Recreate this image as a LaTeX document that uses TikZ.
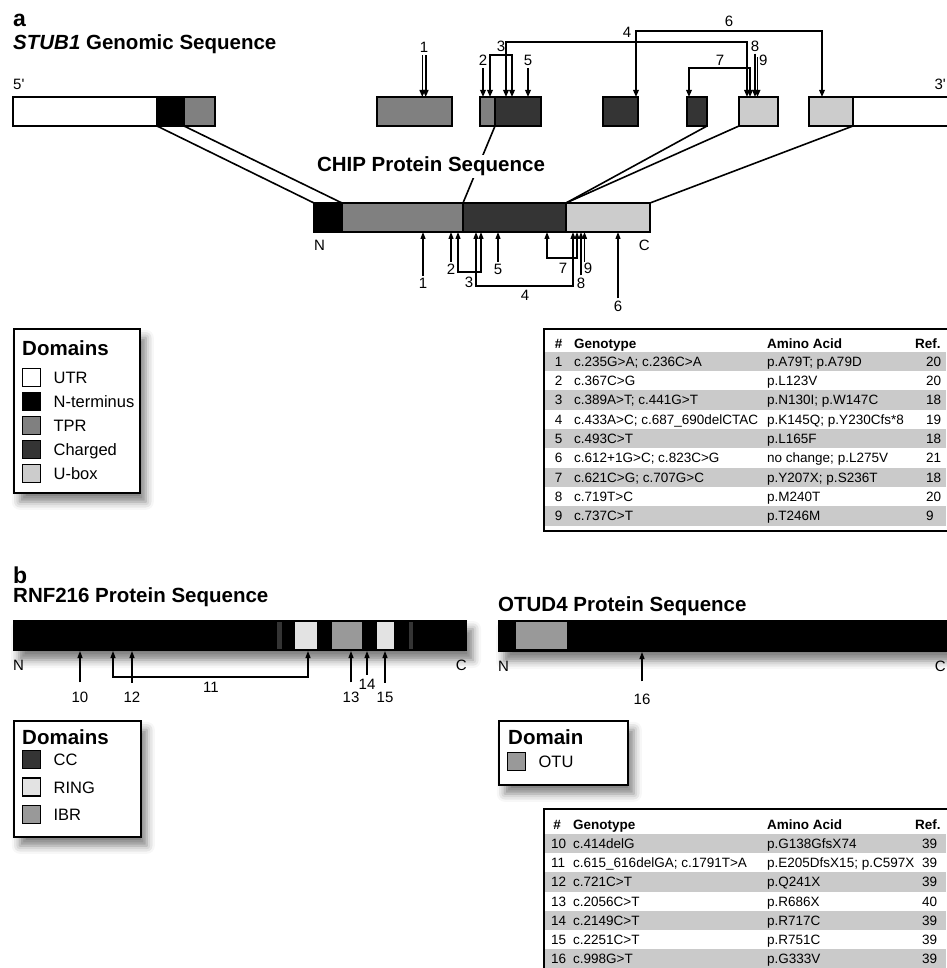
\documentclass[tikz,border=0pt]{standalone}
\usepackage{fontspec}
\setmainfont{Liberation Sans}
\usetikzlibrary{arrows.meta,positioning,backgrounds,calc,shadows.blur}

\definecolor{tprgray}{HTML}{808080}
\definecolor{chggray}{HTML}{343434}
\definecolor{ubxgray}{HTML}{CCCCCC}
\definecolor{ringgray}{HTML}{E3E3E3}
\definecolor{ibrgray}{HTML}{999999}
\definecolor{rowgray}{HTML}{CACACA}

\tikzset{
  seg/.style={draw, line width=1.6pt, inner sep=0pt, outer sep=0pt,
    anchor=north west, minimum height=29pt},
  dropsh/.style={blur shadow={shadow xshift=6pt, shadow yshift=-9pt,
    shadow blur radius=8pt, shadow opacity=50}},
  bar/.style={fill=black, inner sep=0pt, outer sep=0pt, anchor=north west,
    minimum height=31pt, dropsh},
  dom/.style={inner sep=0pt, outer sep=0pt, anchor=north west,
    minimum height=27pt},
  legbox/.style={draw, fill=white, line width=1.6pt, inner sep=0pt,
    anchor=north west, dropsh},
  swatch/.style={draw, line width=1.4pt, inner sep=0pt, minimum size=18pt,
    anchor=north west},
  legtitle/.style={font=\fontsize{20.5}{24}\selectfont\bfseries,
    inner sep=0pt, anchor=west},
  legtxt/.style={font=\fontsize{16.5}{19}\selectfont, inner sep=0pt,
    text height=11.8pt, text depth=0pt},
  ttl/.style={font=\fontsize{20.5}{24}\selectfont\bfseries, inner sep=0pt,
    anchor=base west},
  panel/.style={font=\fontsize{23}{26}\selectfont\bfseries, inner sep=0pt,
    anchor=base west},
  num/.style={font=\fontsize{15}{17}\selectfont, inner sep=0pt},
  cell/.style={font=\fontsize{13.5}{16}\selectfont, inner sep=0pt,
    anchor=west, text height=9.7pt, text depth=0pt},
  hcell/.style={cell, font=\fontsize{13.5}{16}\selectfont\bfseries},
  tabbox/.style={draw, line width=2.4pt, inner sep=0pt, anchor=north west},
  intron/.style={line width=1.6pt, dash pattern=on 4.5pt off 3.5pt},
  link/.style={line width=1.6pt},
  garr/.style={-{Triangle[length=7pt,width=5.5pt]}, line width=1.6pt},
  gbr/.style={{Triangle[length=7pt,width=5.5pt]}-{Triangle[length=7pt,width=5.5pt]},
    line width=1.6pt},
  parr/.style={-{Triangle[length=7pt,width=5pt]}, line width=1.2pt},
  pbr/.style={{Triangle[length=7pt,width=5pt]}-{Triangle[length=7pt,width=5pt]},
    line width=1.2pt}
}

\begin{document}
\begin{tikzpicture}[x=1pt, y=-1pt]
\useasboundingbox (0,0) rectangle (946,968);

% Panel a -- genomic sequence
\node[panel] (pa) at (13,27) {a};
\node[ttl] (gtitle) at (13,50) {\textit{STUB1} Genomic Sequence};
\node[num, anchor=base west] (five) at (13,90) {5\textquotesingle};
\node[num, anchor=base east] (three) at (946,90) {3\textquotesingle};

\node[seg, fill=white, minimum width=144pt] (utr5) at (13,97) {};
\node[seg, fill=black, minimum width=27pt, right=0pt of utr5] (gnt) {};
\node[seg, fill=tprgray, minimum width=31pt, right=0pt of gnt] (gtpr) {};
\node[seg, fill=tprgray, minimum width=75pt] (ex2) at (377,97) {};
\node[seg, fill=tprgray, minimum width=15pt] (ex3a) at (480,97) {};
\node[seg, fill=chggray, minimum width=46pt, right=0pt of ex3a] (ex3b) {};
\node[seg, fill=chggray, minimum width=35pt] (ex4) at (603,97) {};
\node[seg, fill=chggray, minimum width=20pt] (ex5) at (687,97) {};
\node[seg, fill=ubxgray, minimum width=39pt] (ex6) at (739,97) {};
\node[seg, fill=ubxgray, minimum width=44pt] (ex7) at (809,97) {};
\node[seg, fill=white, minimum width=95pt, right=0pt of ex7] (utr3) {};

% Panel a -- CHIP protein
\node[seg, fill=black, minimum width=28pt] (pnt) at (314,203) {};
\node[seg, fill=tprgray, minimum width=121pt, right=0pt of pnt] (ptpr) {};
\node[seg, fill=chggray, minimum width=103pt, right=0pt of ptpr] (pchg) {};
\node[seg, fill=ubxgray, minimum width=84pt, right=0pt of pchg] (pub) {};
\node[num, anchor=north west] (pN) at ([yshift=-8pt]pnt.south west) {N};
\node[num, anchor=north east] (pC) at ([yshift=-8pt]pub.south east) {C};

% shadows and introns
\begin{scope}[on background layer]
  \path[dropsh] (utr5.north west) rectangle (gtpr.south east);
  \path[dropsh] (ex2.north west) rectangle (ex2.south east);
  \path[dropsh] (ex3a.north west) rectangle (ex3b.south east);
  \path[dropsh] (ex4.north west) rectangle (ex4.south east);
  \path[dropsh] (ex5.north west) rectangle (ex5.south east);
  \path[dropsh] (ex6.north west) rectangle (ex6.south east);
  \path[dropsh] (ex7.north west) rectangle (utr3.south east);
  \path[dropsh] (pnt.north west) rectangle (pub.south east);
  \draw[intron] (gtpr.east) -- (ex7.west);
\end{scope}

% exon to protein links
\draw[link] (gnt.south west) -- (pnt.north west);
\draw[link] (gnt.south east) -- (pnt.north east);
\draw[link] (ex3b.south west) -- (pchg.north west);
\draw[link] (ex5.south east) -- (pchg.north east);
\draw[link] (ex6.south west) -- (pub.north west);
\draw[link] (ex7.south east) -- (pub.north east);
\node[ttl, anchor=base, fill=white, inner sep=2pt] (chip) at (431,172)
  {CHIP Protein Sequence};

% mutations on the gene
\node[num] (gl1) at (424,47) {1};
\node[num] (gl2) at (483,60) {2};
\node[num] (gl3) at (501,46) {3};
\node[num] (gl4) at (627,32) {4};
\node[num] (gl5) at (528,60) {5};
\node[num] (gl6) at (729,21) {6};
\node[num] (gl7) at (720,60) {7};
\node[num] (gl8) at (755,46) {8};
\node[num, anchor=west] (gl9) at (759,60) {9};
\coordinate (g9top) at (757.5,57);

\draw[garr] ($(gl1.south)+(-1.7,3)$) -- ($(gl1 |- ex2.north)+(-1.7,0)$);
\draw[garr] ($(gl1.south)+(1.7,3)$) -- ($(gl1 |- ex2.north)+(1.7,0)$);
\draw[garr] ([yshift=-3pt]gl2.south) -- (gl2 |- ex3a.north);
\draw[garr] ([yshift=-3pt]gl5.south) -- (gl5 |- ex3b.north);
\draw[garr] ([yshift=-2pt]gl8.south) -- (gl8 |- ex6.north);
\draw[garr] (g9top) -- (g9top |- ex6.north);
\draw[gbr] (490,0 |- ex3a.north) |- (gl3 |- 0,55) -| (512,0 |- ex3b.north);
\draw[gbr] (506,0 |- ex3b.north) |- (gl4 |- 0,42) -| (747,0 |- ex6.north);
\draw[gbr] (636,0 |- ex4.north) |- (gl6 |- 0,31) -| (822,0 |- ex7.north);
\draw[gbr] (689,0 |- ex5.north) |- (gl7 |- 0,68) -| (750,0 |- ex6.north);

% mutations on the protein
\node[num] (pl1) at (423,283) {1};
\node[num] (pl2) at (451,269) {2};
\node[num] (pl3) at (469,282) {3};
\node[num] (pl4) at (525,295) {4};
\node[num] (pl5) at (498,269) {5};
\node[num] (pl6) at (618,306) {6};
\node[num] (pl7) at (563,268) {7};
\node[num] (pl8) at (581,283) {8};
\node[num] (pl9) at (588,268) {9};
\coordinate (p9bot) at (584.5,262);

\draw[parr] ([yshift=2pt]pl1.north) -- (pl1 |- ptpr.south);
\draw[parr] ([yshift=2pt]pl2.north) -- (pl2 |- ptpr.south);
\draw[parr] ([yshift=2pt]pl5.north) -- (pl5 |- pchg.south);
\draw[parr] ([yshift=2pt]pl6.north) -- (pl6 |- pub.south);
\draw[parr] ([yshift=2pt]pl8.north) -- (pl8 |- pub.south);
\draw[parr] (p9bot) -- (p9bot |- pub.south);
\draw[pbr] (458,0 |- ptpr.south) |- (pl3 |- 0,272) -| (481,0 |- pchg.south);
\draw[pbr] (476,0 |- pchg.south) |- (pl4 |- 0,286) -| (573,0 |- pub.south);
\draw[pbr] (547,0 |- pchg.south) |- (pl7 |- 0,258) -| (577,0 |- pub.south);

% legend a
\node[legbox, minimum width=126pt, minimum height=164pt] (legA) at (13,328) {};
\node[legtitle] (legAt) at (22,348) {Domains};
\node[swatch, fill=white] (swU) at (22,368) {};
\node[swatch, fill=black, below=4.5pt of swU] (swN) {};
\node[swatch, fill=tprgray, below=4.5pt of swN] (swT) {};
\node[swatch, fill=chggray, below=4.5pt of swT] (swC) {};
\node[swatch, fill=ubxgray, below=4.5pt of swC] (swB) {};
\node[legtxt, right=12pt of swU] {UTR};
\node[legtxt, right=12pt of swN] {N-terminus};
\node[legtxt, right=12pt of swT] {TPR};
\node[legtxt, right=12pt of swC] {Charged};
\node[legtxt, right=12pt of swB] {U-box};

% table a
\node[hcell, anchor=center] (taH) at (558.5,344) {\#};
\node[hcell] (taG) at (574,344) {Genotype};
\node[hcell] (taP) at (767,344) {Amino Acid};
\node[hcell] (taR) at (915,344) {Ref.};
\foreach \n/\g/\p/\r [count=\i] in {
  1/{c.235G>A; c.236C>A}/{p.A79T; p.A79D}/20,
  2/{c.367C>G}/{p.L123V}/20,
  3/{c.389A>T; c.441G>T}/{p.N130I; p.W147C}/18,
  4/{c.433A>C; c.687\_690delCTAC}/{p.K145Q; p.Y230Cfs*8}/19,
  5/{c.493C>T}/{p.L165F}/18,
  6/{c.612+1G>C; c.823C>G}/{no change; p.L275V}/21,
  7/{c.621C>G; c.707G>C}/{p.Y207X; p.S236T}/18,
  8/{c.719T>C}/{p.M240T}/20,
  9/{c.737C>T}/{p.T246M}/9} {
  \pgfmathsetmacro\ytop{351.5+(\i-1)*19.35}
  \ifodd\i \fill[rowgray] (545,\ytop) rectangle (946,\ytop+19.35); \fi
  \node[cell, anchor=center] (ta-n-\i) at (558.5,\ytop+9.7) {\n};
  \node[cell] (ta-g-\i) at (574,\ytop+9.7) {\g};
  \node[cell] (ta-p-\i) at (767,\ytop+9.7) {\p};
  \node[cell] (ta-r-\i) at (926,\ytop+9.7) {\r};
}
\node[tabbox, minimum width=404pt, minimum height=202pt] (tabA) at (543,328) {};

% Panel b -- RNF216 and OTUD4
\node[panel] (pb) at (13,583) {b};
\node[ttl] (rtitle) at (13,602) {RNF216 Protein Sequence};
\node[ttl] (otitle) at (498,611) {OTUD4 Protein Sequence};

\node[bar, minimum width=454pt] (rnf) at (13,620) {};
\node[dom, fill=chggray, minimum width=5pt] (cc1) at (277,622) {};
\node[dom, fill=ringgray, minimum width=22pt] (ring1) at (295,622) {};
\node[dom, fill=ibrgray, minimum width=30pt] (ibr) at (332,622) {};
\node[dom, fill=ringgray, minimum width=17pt] (ring2) at (377,622) {};
\node[dom, fill=chggray, minimum width=4pt] (cc2) at (409,622) {};
\node[num, anchor=north west] (rN) at ([yshift=-9pt]rnf.south west) {N};
\node[num, anchor=north east] (rC) at ([yshift=-9pt]rnf.south east) {C};

\node[bar, minimum width=450pt, minimum height=32pt] (otud) at (498,620) {};
\node[dom, fill=ibrgray, minimum width=51pt] (otu) at (516,622) {};
\node[num, anchor=north west] (oN) at ([yshift=-9pt]otud.south west) {N};
\node[num, anchor=north east] (oC) at ([yshift=-9pt,xshift=-2pt]otud.south east) {C};

\node[num] (rl10) at (80,697) {10};
\node[num] (rl11) at (211,687) {11};
\node[num] (rl12) at (132,697) {12};
\node[num] (rl13) at (351,697) {13};
\node[num] (rl14) at (367,684) {14};
\node[num] (rl15) at (385,697) {15};
\node[num] (ol16) at (642,699) {16};

\draw[parr] ([yshift=9pt]rl10.north) -- (rl10 |- rnf.south);
\draw[parr] ([yshift=9pt]rl12.north) -- (rl12 |- rnf.south);
\draw[parr] ([yshift=9pt]rl13.north) -- (rl13 |- rnf.south);
\draw[parr] ([yshift=4pt]rl14.north) -- (rl14 |- rnf.south);
\draw[parr] ([yshift=9pt]rl15.north) -- (rl15 |- rnf.south);
\draw[pbr] (113,0 |- rnf.south) |- (rl11 |- 0,677) -| (308,0 |- rnf.south);
\draw[parr] ([yshift=12pt]ol16.north) -- (ol16 |- otud.south);

% legends b
\node[legbox, minimum width=127pt, minimum height=116pt] (legB) at (13,720) {};
\node[legtitle] (legBt) at (22,737) {Domains};
\node[swatch, fill=chggray] (swCC) at (22,750) {};
\node[swatch, fill=ringgray, below=8pt of swCC] (swR) {};
\node[swatch, fill=ibrgray, below=8pt of swR] (swI) {};
\node[legtxt, right=12pt of swCC] {CC};
\node[legtxt, right=12pt of swR] {RING};
\node[legtxt, right=12pt of swI] {IBR};

\node[legbox, minimum width=129pt, minimum height=64pt] (legC) at (498,720) {};
\node[legtitle] (legCt) at (508,737) {Domain};
\node[swatch, fill=ibrgray] (swO) at (507,752) {};
\node[legtxt, right=12pt of swO] {OTU};

% table b
\node[hcell, anchor=center] (tbH) at (557,825) {\#};
\node[hcell] (tbG) at (573,825) {Genotype};
\node[hcell] (tbP) at (767,825) {Amino Acid};
\node[hcell] (tbR) at (915,825) {Ref.};
\foreach \n/\g/\p/\r [count=\i] in {
  10/{c.414delG}/{p.G138GfsX74}/39,
  11/{c.615\_616delGA; c.1791T>A}/{p.E205DfsX15; p.C597X}/39,
  12/{c.721C>T}/{p.Q241X}/39,
  13/{c.2056C>T}/{p.R686X}/40,
  14/{c.2149C>T}/{p.R717C}/39,
  15/{c.2251C>T}/{p.R751C}/39,
  16/{c.998G>T}/{p.G333V}/39} {
  \pgfmathsetmacro\ytop{834+(\i-1)*19.2}
  \ifodd\i \fill[rowgray] (545,\ytop) rectangle (946,\ytop+19.2); \fi
  \node[cell] (tb-n-\i) at (551,\ytop+9.6) {\n};
  \node[cell] (tb-g-\i) at (573,\ytop+9.6) {\g};
  \node[cell] (tb-p-\i) at (767,\ytop+9.6) {\p};
  \node[cell] (tb-r-\i) at (922,\ytop+9.6) {\r};
}
\node[tabbox, minimum width=404pt, minimum height=161pt] (tabB) at (543,808) {};

\end{tikzpicture}
\end{document}
